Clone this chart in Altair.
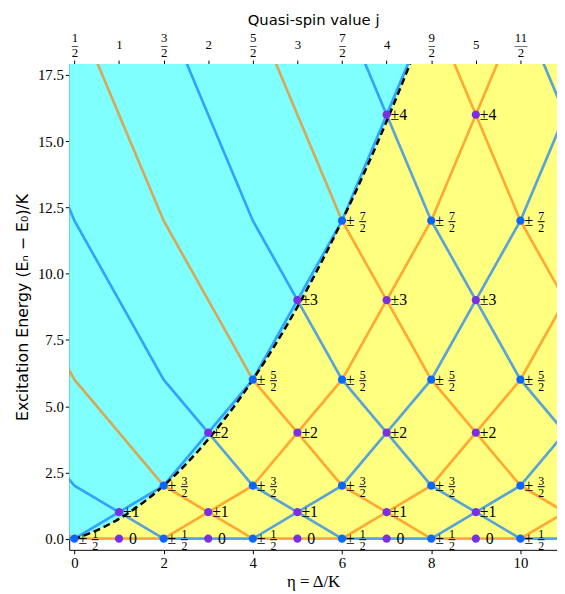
import altair as alt
import pandas as pd

SERIF = "Liberation Serif"
SANS = "DejaVu Sans"

X_DOMAIN = [-0.117, 10.82]
Y_DOMAIN = [-0.42, 17.91]
W, H = 494, 492

# ---- energy-level lines (vertices) ----
l_m1_x = [-1, 0, 1, 2, 3, 4, 5, 6, 7, 8]
l_m1_y = [0, 0, 1, 2, 4, 6, 9, 12, 16, 20]
l_0_x = [-1, 0, 2, 3, 4, 5, 6, 7, 8, 9, 10]
l_0_y = [1, 0, 0, 1, 2, 4, 6, 9, 12, 16, 20]
l_1_x = [-1, 0, 1, 2, 4, 5, 6, 7, 8, 9, 10, 11]
l_1_y = [4, 2, 1, 0, 0, 1, 2, 4, 6, 9, 12, 16]
l_2_x = [-1, 0, 1, 2, 3, 4, 6, 7, 8, 9, 10, 11]
l_2_y = [9, 6, 4, 2, 1, 0, 0, 1, 2, 4, 6, 9]
l_3_x = [-1, 0, 1, 2, 3, 4, 5, 6, 8, 9, 10, 11]
l_3_y = [16, 12, 9, 6, 4, 2, 1, 0, 0, 1, 2, 4]
l_4_x = [0, 1, 2, 3, 4, 5, 6, 7, 8, 10, 11]
l_4_y = [20, 16, 12, 9, 6, 4, 2, 1, 0, 0, 1]
l_5_x = [2, 3, 4, 5, 6, 7, 8, 9, 10, 11]
l_5_y = [20, 16, 12, 9, 6, 4, 2, 1, 0, 0]
l_6_x = [4, 5, 6, 7, 8, 9, 10, 11]
l_6_y = [20, 16, 12, 9, 6, 4, 2, 1]
l_7_x = [6, 7, 8, 9, 10, 11]
l_7_y = [20, 16, 12, 9, 6, 4]
l_8_x = [8, 9, 10, 11]
l_8_y = [20, 16, 12, 9]
l_9_x = [10, 11]
l_9_y = [20, 16]

line_names = ["k-1", "k0", "k1", "k2", "k3", "k4", "k5", "k6", "k7", "k8", "k9"]
line_groups = ["blue", "orange", "blue", "orange", "blue", "orange",
               "blue", "orange", "blue", "orange", "blue"]
line_xs = [l_m1_x, l_0_x, l_1_x, l_2_x, l_3_x, l_4_x, l_5_x, l_6_x, l_7_x, l_8_x, l_9_x]
line_ys = [l_m1_y, l_0_y, l_1_y, l_2_y, l_3_y, l_4_y, l_5_y, l_6_y, l_7_y, l_8_y, l_9_y]

# ---- boundary curve (dashed) ----
curve_x = [-0.5, 0, 1, 2, 3, 4, 5, 6, 7, 8, 9, 10, 11]
curve_y = [-0.19, 0, 0.75, 2, 3.75, 6, 8.75, 12, 15.75, 20, 24.75, 30, 35.75]

# ---- labelled points ----
pt_x = [0, 1, 1, 2, 2, 3, 3, 3, 4, 4, 4, 5, 5, 5, 5, 6, 6, 6, 6,
        7, 7, 7, 7, 7, 8, 8, 8, 8, 9, 9, 9, 9, 9, 10, 10, 10, 10]
pt_y = [0, 0, 1, 0, 2, 0, 1, 4, 0, 2, 6, 0, 1, 4, 9, 0, 2, 6, 12,
        0, 1, 4, 9, 16, 0, 2, 6, 12, 0, 1, 4, 9, 16, 0, 2, 6, 12]
pt_m = ["1/2", "0", "1", "1/2", "3/2", "0", "1", "2", "1/2", "3/2", "5/2",
        "0", "1", "2", "3", "1/2", "3/2", "5/2", "7/2",
        "0", "1", "2", "3", "4", "1/2", "3/2", "5/2", "7/2",
        "0", "1", "2", "3", "4", "1/2", "3/2", "5/2", "7/2"]

# ---- axes ----
x_ticks = [0, 2, 4, 6, 8, 10]
y_ticks = [0, 2.5, 5, 7.5, 10, 12.5, 15, 17.5]
top_tick_vals = [0, 1, 2, 3, 4, 5, 6, 7, 8, 9, 10]
top_tick_labels = ["1/2", "1", "3/2", "2", "5/2", "3", "7/2", "4", "9/2", "5", "11/2"]

# ---------------- build tables ----------------
rows = []
for name, grp, xs_, ys_ in zip(line_names, line_groups, line_xs, line_ys):
    for i, (a, b) in enumerate(zip(xs_, ys_)):
        rows.append({"line": name, "grp": grp, "x": a, "y": b, "order": i})
lines_df = pd.DataFrame(rows)

curve_df = pd.DataFrame({"x": curve_x, "y": curve_y})

prow = []
for a, b, m in zip(pt_x, pt_y, pt_m):
    if "/" in m:
        n, d = m.split("/")
        kind, pm, frac = "half", "\u00b1", n + "\n" + d
    elif m == "0":
        kind, pm, frac = "zero", "0", ""
    else:
        kind, pm, frac = "int", "\u00b1" + m, ""
    prow.append({"x": a, "y": b, "kind": kind, "pm": pm, "frac": frac,
                 "pcol": "half" if "/" in m else "int"})
pts_df = pd.DataFrame(prow)


def lab(lbl):
    if "/" in lbl:
        n, d = lbl.split("/")
        bar = "\u2014" if len(n) > 1 else "\u2013"
        return "['%s','%s','%s']" % (n, bar, d)
    return "['','','%s']" % lbl


expr = "''"
for v, l in reversed(list(zip(top_tick_vals, top_tick_labels))):
    expr = "datum.value == %d ? %s : (%s)" % (v, lab(l), expr)

xs = alt.Scale(domain=X_DOMAIN, nice=False, zero=False)
ys = alt.Scale(domain=Y_DOMAIN, nice=False, zero=False)

bottom_axis = alt.Axis(values=x_ticks, title="\u03b7 = \u0394/K", grid=False,
                       labelFont=SERIF, labelFontSize=15, titleFont=SERIF,
                       titleFontSize=17, titleFontWeight="normal", tickSize=4,
                       domainColor="black", tickColor="black", labelColor="black",
                       titleColor="black", labelPadding=2, titlePadding=3,
                       labelFlush=False)
top_axis = alt.Axis(orient="top", values=top_tick_vals, labelExpr=expr,
                    title="Quasi-spin value j", grid=False, labelFont=SERIF,
                    labelFontSize=13, labelLineHeight=7.5, labelAngle=0,
                    tickSize=4, titleFont=SANS, titleFontSize=15,
                    titleFontWeight="normal", domainColor="black",
                    tickColor="black", labelColor="black", titleColor="black",
                    labelPadding=16, titlePadding=4, labelFlush=False,
                    labelOverlap=False)
left_axis = alt.Axis(values=y_ticks, format=".1f",
                     title="Excitation Energy (E\u2099 \u2212 E\u2080)/K",
                     grid=False, labelFont=SERIF, labelFontSize=15,
                     titleFont=SANS, titleFontSize=16, titleFontWeight="normal",
                     tickSize=4, domainColor="black", tickColor="black",
                     labelColor="black", titleColor="black", labelPadding=2,
                     titlePadding=7, labelFlush=False)


def Y():
    return alt.Y("y:Q", scale=ys, axis=left_axis)


def Xn():
    return alt.X("x:Q", scale=xs, axis=None)


# cyan band: everything above E=0
cyan = alt.Chart(curve_df).mark_area(color="#80ffff", opacity=1,
                                     clip=True).encode(
    x=alt.X("x:Q", scale=xs, axis=top_axis),
    y=alt.datum(Y_DOMAIN[1] + 1),
    y2=alt.datum(0),
)

# yellow: between E=0 and the boundary curve
yellow = alt.Chart(curve_df).mark_area(color="#ffff80", opacity=1,
                                       interpolate="monotone",
                                       clip=True).encode(
    x=Xn(),
    y=Y(),
    y2=alt.datum(0),
)

lines = alt.Chart(lines_df).mark_line(strokeWidth=2.7, opacity=0.68,
                                      clip=True).encode(
    x=alt.X("x:Q", scale=xs, axis=bottom_axis),
    y=Y(),
    detail="line:N",
    order="order:Q",
    color=alt.Color("grp:N", legend=None,
                    scale=alt.Scale(domain=["blue", "orange"],
                                    range=["#0a78ff", "#ff7f0e"])),
)

dashed = alt.Chart(curve_df).mark_line(color="black", strokeWidth=2.5,
                                       strokeDash=[7, 4],
                                       interpolate="monotone",
                                       clip=True).encode(
    x=Xn(), y=Y(),
)

points = alt.Chart(pts_df).mark_circle(size=70, opacity=1).encode(
    x=Xn(), y=Y(),
    fill=alt.Fill("pcol:N", legend=None,
                  scale=alt.Scale(domain=["half", "int"],
                                  range=["#0a66ff", "#7a2ee6"])),
)

pm_text = alt.Chart(pts_df).transform_filter("datum.kind != 'zero'").mark_text(
    align="left", baseline="middle", dx=4, font=SERIF, fontSize=16,
    color="black").encode(
    x=Xn(), y=Y(), text="pm:N",
)

zero_text = alt.Chart(pts_df).transform_filter("datum.kind == 'zero'").mark_text(
    align="left", baseline="middle", dx=10, font=SERIF, fontSize=16,
    color="black").encode(
    x=Xn(), y=Y(), text="pm:N",
)

frac_text = alt.Chart(pts_df).transform_filter("datum.kind == 'half'").mark_text(
    align="center", baseline="middle", dx=21, dy=-5, font=SERIF, fontSize=12,
    lineBreak="\n", lineHeight=12, color="black").encode(
    x=Xn(), y=Y(), text="frac:N",
)

frac_bar = alt.Chart(pts_df).transform_filter("datum.kind == 'half'").mark_tick(
    orient="horizontal", size=7, thickness=1, xOffset=21, yOffset=1,
    color="black", opacity=1).encode(
    x=Xn(), y=Y(),
)

chart = alt.layer(
    cyan, yellow, lines, dashed, points, pm_text, zero_text, frac_text, frac_bar
).resolve_axis(x="independent").resolve_scale(color="independent").properties(
    width=W, height=H,
    autosize=alt.AutoSizeParams(type="none"),
    padding={"left": 62, "top": 53, "right": 0, "bottom": 41},
).configure_view(stroke=None)

chart.save("out.html", embed_options={"renderer": "svg", "actions": False})
